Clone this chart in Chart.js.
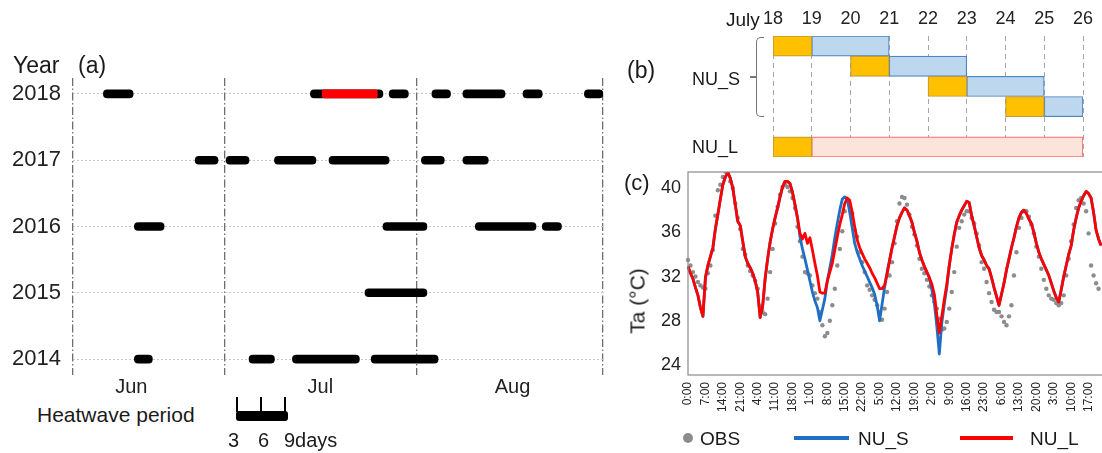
<!DOCTYPE html>
<html>
<head>
<meta charset="utf-8">
<script src="https://cdn.jsdelivr.net/npm/chart.js@4.4.1/dist/chart.umd.min.js"></script>
<style>
  body { margin: 0; background: #fff; }
  #page { position: relative; width: 1102px; height: 453px; overflow: hidden; font-family: 'Liberation Sans', Arial, sans-serif; color: #1a1a1a; }
  #page canvas { position: absolute; }
  .t { position: absolute; line-height: 1; white-space: nowrap; }
  .blk { position: absolute; }
</style>
</head>
<body>
<div id="page">
  <canvas id="chartA" width="615" height="400" style="left:0;top:0"></canvas>
  <canvas id="chartB" width="482" height="165" style="left:620px;top:0"></canvas>
  <canvas id="chartC" width="495" height="270" style="left:620px;top:165px"></canvas>

  <!-- panel (a) texts + heatwave length key -->
  <div class="t" style="left:13px;top:54px;font-size:23px">Year</div>
  <div class="t" style="left:78px;top:54px;font-size:23px">(a)</div>
  <div class="t" style="left:37px;top:404px;font-size:21px">Heatwave period</div>
  <div class="blk" style="left:236px;top:411px;width:52px;height:10px;background:#000;border-radius:3px"></div>
  <div class="blk" style="left:236px;top:397px;width:1.5px;height:15px;background:#000"></div>
  <div class="blk" style="left:260px;top:397px;width:1.5px;height:15px;background:#000"></div>
  <div class="blk" style="left:284px;top:397px;width:1.5px;height:15px;background:#000"></div>
  <div class="t" style="left:228px;top:430px;font-size:20px">3</div>
  <div class="t" style="left:258px;top:430px;font-size:20px">6</div>
  <div class="t" style="left:284px;top:430px;font-size:20px">9days</div>

  <!-- panel (b) texts -->
  <div class="t" style="left:627px;top:59px;font-size:23px">(b)</div>
  <div class="t" style="left:726px;top:10px;font-size:19px">July</div>
  <div class="t" style="left:692px;top:70px;font-size:18px">NU_S</div>
  <div class="t" style="left:692px;top:138px;font-size:18px">NU_L</div>
  <div class="blk" style="left:756px;top:37px;width:7px;height:78px;border:1.5px solid #777;border-right:none;border-radius:5px 0 0 5px"></div>
  <div class="blk" style="left:750px;top:76px;width:7px;height:1.5px;background:#777"></div>

  <!-- panel (c) texts + legend -->
  <div class="t" style="left:624px;top:172px;font-size:22px">(c)</div>
  <div class="t" style="left:637px;top:301px;font-size:21px;transform:translate(-50%,-50%) rotate(-90deg)">Ta (°C)</div>
  <div class="blk" style="left:683px;top:433px;width:10px;height:10px;border-radius:50%;background:#8c8c8c"></div>
  <div class="t" style="left:700px;top:429px;font-size:19px">OBS</div>
  <div class="blk" style="left:794px;top:436px;width:55px;height:4px;background:#1f6fc5"></div>
  <div class="t" style="left:858px;top:429px;font-size:19px">NU_S</div>
  <div class="blk" style="left:960px;top:436px;width:53px;height:4px;background:#ff0000"></div>
  <div class="t" style="left:1030px;top:429px;font-size:19px">NU_L</div>
</div>

<script>
Chart.defaults.font.family = "'Liberation Sans', Arial, sans-serif";
Chart.defaults.color = '#222';

// ---------- (a) heatwave periods, days counted from 1 June ----------
const years = [2018, 2017, 2016, 2015, 2014];
const waves2018 = [[10.5, 15.3], [43.9, 55.6], [56.6, 59.7], [63.5, 66.5], [68.5, 75.3], [78.2, 81.3], [88.1, 91.1]];
const waves2017 = [[25.3, 29.0], [30.3, 34.0], [38.1, 44.8], [46.9, 56.6], [61.8, 65.5], [68.5, 72.6]];
const waves2016 = [[15.5, 20.3], [55.6, 62.7], [70.5, 80.3], [81.3, 84.4]];
const waves2015 = [[52.7, 62.7]];
const waves2014 = [[15.5, 18.4], [34.0, 38.1], [41.0, 51.8], [53.7, 64.5]];
const studyEvent = [45.8, 54.7];   // the 2018 event simulated in (b) and (c)
const monthNames = ['Jun', 'Jul', 'Aug'];
const monthMid = [15, 45.5, 76.5];
const monthEdges = [5.6, 30, 61, 91.1];

// ---------- (b) run design ----------
const runRows = ['NU_S 1', 'NU_S 2', 'NU_S 3', 'NU_S 4', '', 'NU_L'];
const spinUp = [[18, 19], [20, 21], [22, 23], [24, 25], null, [18, 19]];
const simPeriod = [[19, 21], [21, 23], [23, 25], [25, 26], null, [19, 26]];
const julyDays = [18, 19, 20, 21, 22, 23, 24, 25, 26];

// ---------- (c) hourly air temperature from 18 July 0:00 ----------
const obs = [
  33.5, 33.0, 32.4, 32.0, 31.5, 31.2, 31.0, 30.9, 32.3, 33.0,
  34.4, 37.5, 39.8, 40.3, 41.0, 41.5, 41.3, 40.6, 40.0, 38.6,
  37.3, 36.3, 34.5, 34.0, 33.0, 32.5, 32.1, 31.6, 30.9, 29.3,
  28.8, 28.6, 30.0, 32.4, 34.5, 36.8, 38.3, 39.4, 40.1, 40.3,
  40.1, 39.7, 39.1, 38.2, 36.5, 35.2, 33.8, 32.4, 32.3, 32.1,
  31.2, 30.5, 30.0, 28.8, 27.6, 26.6, 26.9, 28.0, 29.4, 30.9,
  33.0, 34.5, 36.1, 37.9, 38.8, 38.5, 37.7, 36.2, 35.6, 34.2,
  33.3, 32.4, 31.2, 30.8, 30.3, 29.9, 29.4, 28.8, 28.1, 29.1,
  30.6, 32.1, 33.3, 35.0, 37.0, 38.6, 39.2, 39.1, 38.5, 37.6,
  36.5, 35.8, 34.8, 33.6, 32.7, 32.3, 31.7, 31.1, 30.3, 29.7,
  29.1, 28.2, 27.2, 27.3, 27.9, 29.1, 30.6, 32.4, 34.7, 36.4,
  37.0, 37.6, 37.9, 37.9, 37.3, 36.8, 35.9, 34.8, 33.3, 32.7,
  31.5, 30.5, 29.7, 29.0, 28.8, 28.8, 28.4, 27.9, 27.6, 28.4,
  29.4, 32.1, 34.2, 36.4, 37.3, 37.9, 37.9, 37.4, 36.7, 35.9,
  34.7, 33.8, 32.7, 31.7, 30.9, 30.3, 30.0, 29.9, 29.6, 29.4,
  29.6, 30.3, 32.1, 33.6, 35.2, 36.7, 38.2, 38.9, 39.1, 38.6,
  37.9, 35.9, 33.0, 32.1, 31.4, 30.9
];
const nuS = [
  32.9, 32.3, 31.8, 31.0, 30.3, 29.2, 28.4, 31.9, 33.0, 33.8,
  34.6, 36.3, 37.6, 39.0, 40.3, 41.0, 41.4, 40.9, 40.0, 38.5,
  37.0, 36.6, 35.2, 33.8, 33.2, 32.8, 32.3, 31.6, 30.6, 28.3,
  29.3, 31.8, 33.6, 35.1, 36.3, 37.3, 38.2, 39.2, 40.1, 40.6,
  40.6, 40.4, 39.6, 38.5, 37.3, 35.6, 34.5, 33.6, 32.6, 31.6,
  30.6, 29.8, 29.2, 28.0, 29.0, 30.0, 31.6, 32.8, 34.0, 35.5,
  36.8, 38.0, 39.0, 39.2, 39.0, 37.8, 36.4, 35.0, 34.2, 33.6,
  33.0, 32.5, 32.0, 31.5, 31.0, 30.4, 29.4, 28.0, 29.5, 31.0,
  32.4, 33.5, 34.6, 35.6, 36.6, 37.3, 37.8, 38.2, 38.0, 37.5,
  36.9, 36.0, 35.2, 34.2, 33.5, 32.9, 32.4, 31.9, 30.8, 29.6,
  27.5, 25.0, 27.8, 29.5, 31.0, 33.0, 34.5, 35.8, 36.9, 37.5,
  38.0, 38.4, 38.8, 38.7, 37.5, 36.6, 35.6, 34.6, 33.9, 33.5,
  33.0, 32.7, 31.9, 31.0, 30.2, 29.4, 30.4, 31.4, 32.6, 33.6,
  34.6, 35.5, 36.5, 37.3, 37.8, 38.0, 37.7, 37.2, 36.8, 36.0,
  35.0, 34.2, 33.6, 33.1, 32.6, 32.1, 31.4, 30.7, 30.1, 29.7,
  30.8, 32.0, 33.0, 34.0, 34.8, 36.2, 37.3, 38.2, 38.8, 39.3,
  39.7, 39.5, 39.1, 37.8, 36.2, 35.4, 34.8
];
const nuL = [
  32.9, 32.3, 31.8, 31.0, 30.3, 29.2, 28.4, 31.9, 33.0, 33.8,
  34.6, 36.3, 37.6, 39.0, 40.3, 41.0, 41.4, 40.9, 40.0, 38.5,
  37.0, 36.6, 35.2, 33.8, 33.2, 32.8, 32.3, 31.6, 30.6, 28.3,
  29.3, 31.8, 33.6, 35.1, 36.3, 37.3, 38.2, 39.2, 40.1, 40.6,
  40.6, 40.4, 39.6, 38.5, 37.3, 35.9, 35.4, 35.9, 35.0, 35.5,
  34.4, 33.2, 32.1, 30.6, 30.5, 30.5, 31.6, 32.4, 33.2, 34.4,
  35.6, 36.7, 37.6, 38.6, 39.1, 38.9, 37.8, 36.5, 35.3, 34.6,
  34.1, 33.6, 33.2, 32.8, 32.3, 31.9, 31.4, 30.9, 30.9, 31.2,
  32.2, 33.4, 34.6, 35.6, 36.6, 37.3, 37.8, 38.2, 38.0, 37.5,
  36.9, 36.0, 35.2, 34.2, 33.5, 32.9, 32.4, 31.9, 31.3, 30.4,
  28.5, 26.9, 28.4, 29.9, 31.3, 33.0, 34.5, 35.8, 36.9, 37.5,
  38.0, 38.4, 38.8, 38.7, 37.5, 36.6, 35.6, 34.6, 33.9, 33.5,
  33.0, 32.7, 31.9, 31.0, 30.2, 29.4, 30.4, 31.4, 32.6, 33.6,
  34.6, 35.5, 36.5, 37.3, 37.8, 38.0, 37.7, 37.2, 36.8, 36.0,
  35.0, 34.2, 33.6, 33.1, 32.6, 32.1, 31.4, 30.7, 30.1, 29.7,
  30.8, 32.0, 33.0, 34.0, 34.8, 36.2, 37.3, 38.2, 38.8, 39.3,
  39.7, 39.5, 39.1, 37.8, 36.2, 35.4, 34.8
];
const tempTicks = [24, 28, 32, 36, 40];
const hourLabels = [];
for (let h = 0; h <= 170; h++) hourLabels.push((h % 24) + ':00');

// ================= (a) =================
const waveRows = [waves2018, waves2017, waves2016, waves2015, waves2014];
const wavePoints = [];
years.forEach((yr, i) => waveRows[i].forEach(p => wavePoints.push({ x: p, y: yr })));

new Chart(document.getElementById('chartA'), {
  type: 'bar',
  data: {
    datasets: [
      {
        label: 'event', data: [{ x: studyEvent, y: 2018 }], backgroundColor: '#ff0000',
        barThickness: 8, borderRadius: 2, borderSkipped: false, grouped: false, order: 0
      },
      {
        label: 'heatwave', data: wavePoints, backgroundColor: '#000',
        barThickness: 8, borderRadius: 4, borderSkipped: false, grouped: false, order: 1
      }
    ]
  },
  options: {
    indexAxis: 'y',
    responsive: false,
    animation: false,
    layout: { padding: { top: 78, right: 12 } },
    plugins: { legend: { display: false }, tooltip: { enabled: false } },
    scales: {
      x: {
        type: 'linear', min: monthEdges[0], max: monthEdges[3],
        afterBuildTicks: s => { s.ticks = monthEdges.concat(monthMid).sort((a, b) => a - b).map(v => ({ value: v })); },
        ticks: {
          font: { size: 20 }, color: '#222', padding: 0,
          callback: v => { const i = monthMid.indexOf(v); return i >= 0 ? monthNames[i] : ''; }
        },
        grid: {
          drawTicks: false, lineWidth: 1.3,
          color: c => (c.tick && monthEdges.includes(c.tick.value)) ? '#6e6e6e' : 'rgba(0,0,0,0)'
        },
        border: { display: false, dash: [8, 2.5, 1.5, 2.5] },
        afterFit: s => { s.height = 25; s.paddingLeft = 0; s.paddingRight = 0; }
      },
      y: {
        type: 'linear', min: 2013.76, max: 2018.24, offset: false,
        afterBuildTicks: s => { s.ticks = years.map(v => ({ value: v })); },
        ticks: { font: { size: 22 }, color: '#222', padding: 12, callback: v => String(v) },
        grid: { drawTicks: false, offset: false, color: '#c8c8c8', lineWidth: 1 },
        border: { display: false, dash: [2, 2] },
        afterFit: s => { s.width = 73; s.paddingTop = 0; s.paddingBottom = 0; }
      }
    }
  }
});

// ================= (b) =================
new Chart(document.getElementById('chartB'), {
  type: 'bar',
  data: {
    labels: runRows,
    datasets: [
      {
        label: 'spin-up', data: spinUp, backgroundColor: '#ffc000', borderColor: '#c69b34',
        borderWidth: 1.2, borderSkipped: false, grouped: false, barPercentage: 1, categoryPercentage: 1
      },
      {
        label: 'simulation', data: simPeriod,
        backgroundColor: ['#bdd7ee', '#bdd7ee', '#bdd7ee', '#bdd7ee', '#bdd7ee', '#fde4da'],
        borderColor: ['#4d85c0', '#4d85c0', '#4d85c0', '#4d85c0', '#4d85c0', '#ff6f6f'],
        borderWidth: 1.2, borderSkipped: false, grouped: false, barPercentage: 1, categoryPercentage: 1
      }
    ]
  },
  options: {
    indexAxis: 'y',
    responsive: false,
    animation: false,
    layout: { padding: { right: 19, bottom: 8 } },
    plugins: { legend: { display: false }, tooltip: { enabled: false } },
    scales: {
      x: {
        type: 'linear', position: 'top', min: julyDays[0], max: julyDays[julyDays.length - 1],
        afterBuildTicks: s => { s.ticks = julyDays.map(v => ({ value: v })); },
        ticks: { font: { size: 18 }, color: '#222', padding: 6 },
        grid: { drawTicks: false, color: '#a6a6a6', lineWidth: 1 },
        border: { display: false, dash: [5, 4] },
        afterFit: s => { s.height = 36; }
      },
      y: {
        ticks: { display: false },
        grid: { display: false },
        border: { display: false },
        afterFit: s => { s.width = 153; s.paddingTop = 0; s.paddingBottom = 0; }
      }
    }
  }
});

// ================= (c) =================
const frame = {
  id: 'frame',
  afterDraw(chart) {
    const { ctx, chartArea: a } = chart;
    ctx.save();
    ctx.strokeStyle = '#8a8a8a';
    ctx.lineWidth = 1.2;
    ctx.strokeRect(a.left, a.top, a.right - a.left, a.bottom - a.top);
    ctx.restore();
  }
};

new Chart(document.getElementById('chartC'), {
  type: 'line',
  data: {
    labels: hourLabels,
    datasets: [
      {
        label: 'OBS', data: obs, showLine: false, pointRadius: 2.2, pointBorderWidth: 0,
        backgroundColor: '#8c8c8c', borderColor: '#8c8c8c', order: 2
      },
      {
        label: 'NU_S', data: nuS, borderColor: '#1f6fc5', borderWidth: 2.8, pointRadius: 0,
        borderJoinStyle: 'round', order: 1
      },
      {
        label: 'NU_L', data: nuL, borderColor: '#ff0000', borderWidth: 2.8, pointRadius: 0,
        borderJoinStyle: 'round', order: 0
      }
    ]
  },
  options: {
    responsive: false,
    animation: false,
    layout: { padding: { top: 7, right: 2 } },
    plugins: { legend: { display: false }, tooltip: { enabled: false } },
    scales: {
      x: {
        grid: { display: false, drawTicks: false },
        border: { display: false },
        ticks: {
          autoSkip: false, minRotation: 90, maxRotation: 90, font: { size: 12 }, color: '#222', padding: 7,
          callback: (v, i) => (i % 7 === 0 && i < 168) ? hourLabels[i] : ''
        },
        afterFit: s => { s.height = 60; s.paddingLeft = 0; s.paddingRight = 0; }
      },
      y: {
        min: 23.1, max: 41.45,
        afterBuildTicks: s => { s.ticks = tempTicks.map(v => ({ value: v })); },
        ticks: { font: { size: 18 }, color: '#222', padding: 7 },
        grid: { display: false, drawTicks: false },
        border: { display: false },
        afterFit: s => { s.width = 68; s.paddingTop = 0; s.paddingBottom = 0; }
      }
    }
  },
  plugins: [frame]
});
</script>
</body>
</html>
